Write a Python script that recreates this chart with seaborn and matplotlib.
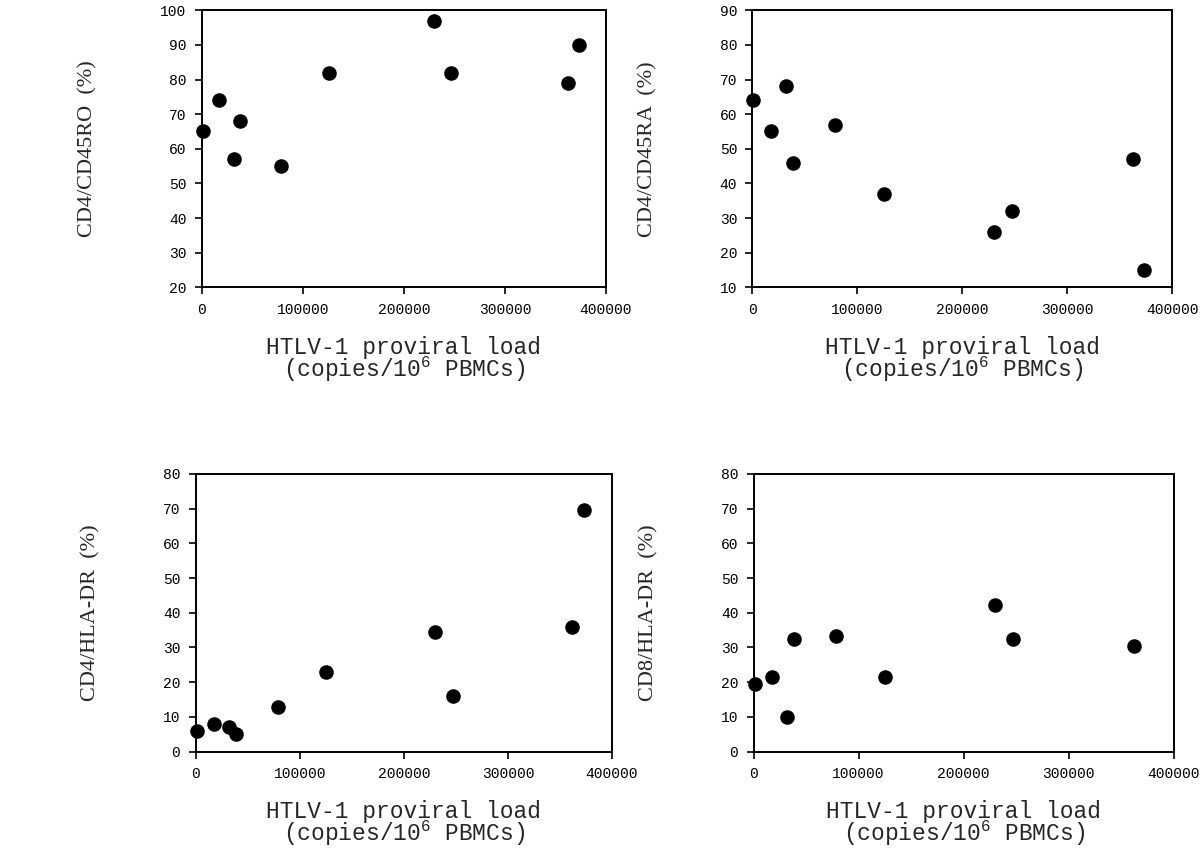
import matplotlib
matplotlib.use("Agg")
import matplotlib.pyplot as plt
import seaborn as sns
import pandas as pd

# HTLV-1 proviral load (copies / 10^6 PBMCs), one value per patient
proviral_load = [1000, 17600, 31700, 38400, 78700, 125600, 230000, 247000, 362000, 373000]

# Percentages
cd4_cd45ro = [65, 74, 57, 68, 55, 82, 97, 82, 79, 90]
cd4_cd45ra = [64, 55, 68, 46, 57, 37, 26, 32, 47, 15]
cd4_hladr = [6, 8, 7, 5, 13, 23, 34.5, 16, 36, 69.5]
cd8_hladr = [19.5, 21.5, 10, 32.5, 33.3, 21.5, 42.3, 32.5, 30.3]  # last patient missing

x_ticks = [0, 100000, 200000, 300000, 400000]

sns.set_style("ticks")
plt.rcParams['font.family'] = ['Liberation Mono', 'DejaVu Sans']
plt.rcParams['mathtext.fontset'] = 'custom'
plt.rcParams['mathtext.rm'] = 'Liberation Mono'
plt.rcParams['mathtext.it'] = 'Liberation Mono'

fig = plt.figure(figsize=(12, 8.6), dpi=100)
fig.patch.set_facecolor('white')

panels = [
    # (rect, y values, y label, y limits, y ticks)
    ([0.168, 0.666, 0.337, 0.322], cd4_cd45ro, 'CD4/CD45RO  (%)', (20, 100), range(20, 101, 10)),
    ([0.627, 0.666, 0.350, 0.322], cd4_cd45ra, 'CD4/CD45RA  (%)', (10, 90), range(10, 91, 10)),
    ([0.163, 0.126, 0.347, 0.323], cd4_hladr, 'CD4/HLA-DR  (%)', (0, 80), range(0, 81, 10)),
    ([0.628, 0.126, 0.350, 0.323], cd8_hladr, 'CD8/HLA-DR  (%)', (0, 80), range(0, 81, 10)),
]

for rect, yvals, ylab, ylim, yticks in panels:
    ax = fig.add_axes(rect)
    df = pd.DataFrame({'load': proviral_load[:len(yvals)], 'pct': yvals})
    sns.scatterplot(data=df, x='load', y='pct', ax=ax, color='black',
                    s=110, edgecolor='black', linewidth=0, clip_on=False)
    ax.set_xlim(0, 400000)
    ax.set_ylim(*ylim)
    ax.set_xticks(x_ticks)
    ax.set_xticklabels([str(t) for t in x_ticks])
    ax.set_yticks(list(yticks))
    for side in ['top', 'right', 'left', 'bottom']:
        ax.spines[side].set_visible(True)
        ax.spines[side].set_linewidth(1.4)
        ax.spines[side].set_color('black')
    ax.tick_params(axis='both', direction='out', length=5, width=1.2,
                   labelsize=10.5, colors='black', pad=6)
    ax.set_xlabel('HTLV-1 proviral load\n(copies/10$^{6}$ PBMCs)',
                  fontsize=16.5, linespacing=0.8, labelpad=14)
    ax.set_ylabel(ylab, fontsize=16, family=['Liberation Serif'], labelpad=45)

plt.savefig('out.png', dpi=100, facecolor='white')
